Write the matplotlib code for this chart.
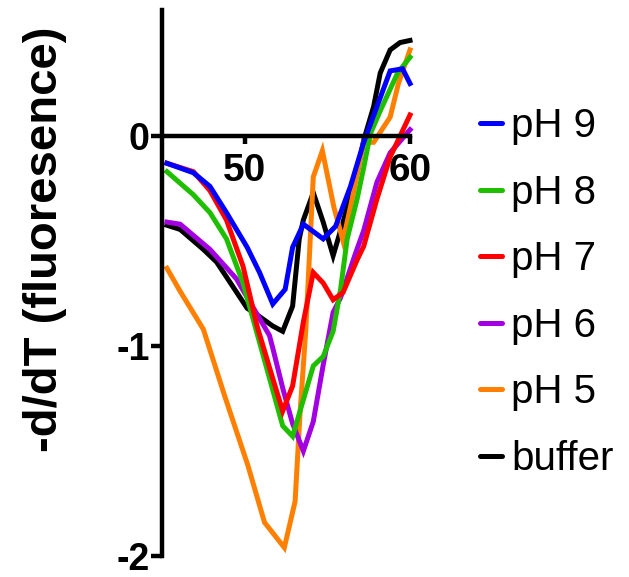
import matplotlib.pyplot as plt
from matplotlib.lines import Line2D

plt.rcParams['font.family'] = ['Liberation Sans', 'DejaVu Sans']

# melt curves, -d/dT of fluorescence vs temperature
t_ph9 = [45.3, 46.9, 47.9, 48.9, 50.15, 50.9, 51.7, 52.45, 52.9, 53.55, 54.75, 55.5, 56.4, 57.2, 58.0, 58.8, 59.55, 60.0]
d_ph9 = [-0.13, -0.175, -0.24, -0.365, -0.53, -0.65, -0.80, -0.73, -0.53, -0.42, -0.49, -0.43, -0.24, -0.03, 0.14, 0.31, 0.32, 0.25]

t_ph8 = [45.3, 46.9, 47.9, 48.9, 49.9, 50.75, 52.3, 52.9, 54.15, 54.75, 55.35, 55.8, 56.2, 56.8, 57.2, 57.6, 58.2, 59.25, 60.0]
d_ph8 = [-0.17, -0.28, -0.365, -0.49, -0.70, -0.94, -1.38, -1.43, -1.095, -1.05, -0.93, -0.73, -0.49, -0.30, -0.15, 0.01, 0.12, 0.30, 0.375]

t_ph7 = [45.3, 46.9, 47.9, 48.9, 49.9, 50.75, 51.7, 52.3, 52.9, 53.55, 54.15, 54.75, 55.35, 55.95, 56.8, 57.2, 58.0, 58.8, 59.4, 60.0]
d_ph7 = [-0.13, -0.17, -0.26, -0.40, -0.62, -0.905, -1.155, -1.31, -1.19, -0.885, -0.65, -0.70, -0.78, -0.745, -0.59, -0.525, -0.30, -0.10, 0.0, 0.10]

t_ph6 = [45.3, 46.1, 47.9, 49.5, 51.5, 51.7, 52.3, 52.9, 53.55, 54.15, 54.75, 55.35, 55.8, 56.7, 57.2, 58.0, 58.8, 60.0]
d_ph6 = [-0.41, -0.42, -0.54, -0.68, -0.95, -1.01, -1.20, -1.37, -1.50, -1.36, -1.09, -0.84, -0.77, -0.56, -0.45, -0.22, -0.08, 0.03]

t_ph5 = [45.3, 46.1, 47.5, 48.8, 50.2, 51.2, 52.4, 53.05, 53.35, 53.7, 54.15, 54.7, 55.4, 55.95, 56.5, 57.2, 57.8, 58.8, 59.3, 60.0]
d_ph5 = [-0.63, -0.74, -0.92, -1.24, -1.57, -1.84, -1.96, -1.74, -1.32, -0.92, -0.195, -0.07, -0.34, -0.50, -0.30, -0.03, -0.03, 0.09, 0.25, 0.41]

t_buf = [45.3, 46.1, 47.5, 48.3, 49.1, 50.15, 50.9, 51.7, 52.3, 52.9, 53.3, 53.55, 54.15, 54.75, 55.35, 55.95, 56.8, 57.2, 57.8, 58.2, 58.8, 59.4, 60.0]
d_buf = [-0.425, -0.445, -0.54, -0.60, -0.695, -0.82, -0.86, -0.905, -0.93, -0.81, -0.49, -0.40, -0.27, -0.41, -0.57, -0.41, -0.175, -0.02, 0.14, 0.30, 0.41, 0.445, 0.455]

labels = ['pH 9', 'pH 8', 'pH 7', 'pH 6', 'pH 5', 'buffer']
colors = ['#0000ff', '#1fbf00', '#ff0000', '#a200e0', '#ff8000', '#000000']
series = [(t_ph9, d_ph9), (t_ph8, d_ph8), (t_ph7, d_ph7),
          (t_ph6, d_ph6), (t_ph5, d_ph5), (t_buf, d_buf)]

fig = plt.figure(figsize=(6.29, 5.77), dpi=100)
ax = fig.add_axes([162 / 629, 21 / 577, 248 / 629, 546 / 577])

# draw back to front so the blue one ends on top
order = [5, 4, 3, 1, 2, 0]
for i in order:
    t, d = series[i]
    ax.plot(t, d, color=colors[i], lw=3.6, solid_joinstyle='miter', clip_on=False)

ax.set_xlim(45, 60)
ax.set_ylim(-2, 0.6)
ax.spines['bottom'].set_position(('data', 0))
ax.spines['top'].set_visible(False)
ax.spines['right'].set_visible(False)
for s in ['left', 'bottom']:
    ax.spines[s].set_linewidth(3.2)

ax.set_xticks([50, 60])
ax.set_yticks([0, -1, -2])
ax.set_yticklabels(['0', '-1', '-2'])
ax.tick_params(axis='x', length=6, width=3.2, pad=6, labelsize=28)
ax.tick_params(axis='y', length=8, width=3.2, pad=1, labelsize=27)
for lab in ax.get_xticklabels() + ax.get_yticklabels():
    lab.set_fontweight('bold')

ax.set_ylabel('-d/dT (fluoresence)', fontsize=34, fontweight='bold')
ax.yaxis.set_label_coords(-0.383, 0.58)

handles = [Line2D([], [], color=c, lw=3.6, solid_capstyle='round') for c in colors]
fig.legend(handles, labels, loc='upper left', bbox_to_anchor=(480 / 629, 1 - 107 / 577),
           frameon=False, fontsize=29, handlelength=0.55, handletextpad=0.22,
           labelspacing=0.71, borderaxespad=0, borderpad=0)

fig.savefig('out.png', dpi=100)
